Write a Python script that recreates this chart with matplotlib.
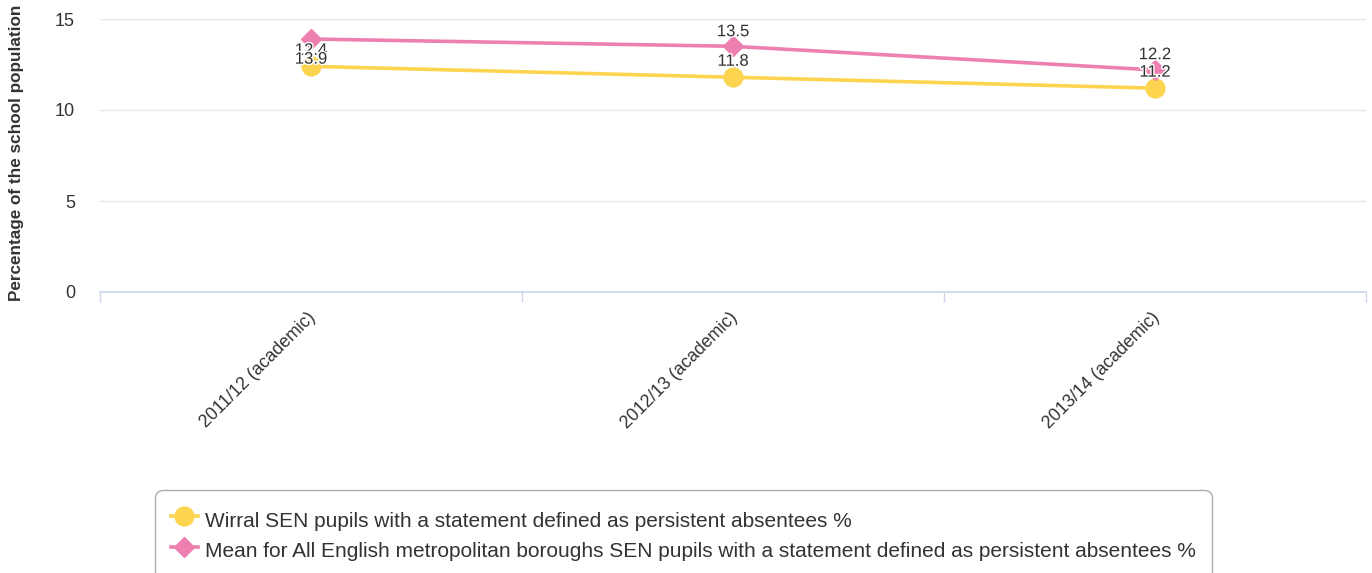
import matplotlib
matplotlib.use("Agg")
import matplotlib.pyplot as plt
import matplotlib.patheffects as pe
from matplotlib.lines import Line2D
from matplotlib.transforms import ScaledTranslation
import numpy as np

plt.rcParams['font.family'] = ['Liberation Sans', 'DejaVu Sans']

# data
categories = ["2011/12 (academic)", "2012/13 (academic)", "2013/14 (academic)"]
wirral = [12.4, 11.8, 11.2]
mean_metro = [13.9, 13.5, 12.2]
series_names = [
    "Wirral SEN pupils with a statement defined as persistent absentees %",
    "Mean for All English metropolitan boroughs SEN pupils with a statement defined as persistent absentees %",
]
y_ticks = [0, 5, 10, 15]

yellow = "#FDD44F"
pink = "#EE80B0"
text_col = "#333333"

W, H = 1372, 573
fig = plt.figure(figsize=(W / 100, H / 100), dpi=100)
ax = fig.add_axes([100 / W, 1 - 292 / H, 1266 / W, 273 / H])

x = np.arange(len(categories))
ax.plot(x, wirral, color=yellow, lw=2.6, marker="o", ms=13.5, zorder=3)
ax.plot(x, mean_metro, color=pink, lw=2.6, marker="D", ms=10, zorder=3)

# data labels (offsets in points, pink first label pushed below to avoid overlap)
label_style = dict(ha="center", va="center", fontsize=12, color=text_col, zorder=5,
                   path_effects=[pe.withStroke(linewidth=2, foreground="white")])
for xi, v in zip(x, wirral):
    ax.annotate(f"{v:.1f}", (xi, v), xytext=(0, 11.5), textcoords="offset points", **label_style)
pink_offsets = [-14.5, 10.5, 11]
for xi, v, off in zip(x, mean_metro, pink_offsets):
    ax.annotate(f"{v:.1f}", (xi, v), xytext=(0, off), textcoords="offset points", **label_style)

ax.set_xlim(-0.5, len(categories) - 0.5)
ax.set_ylim(0, 15)
ax.set_yticks(y_ticks)
ax.yaxis.grid(True, color="#e6e6e6", lw=1)
ax.set_axisbelow(True)
ax.tick_params(axis="y", length=0, pad=18, labelsize=13, labelcolor=text_col)

for s in ["top", "right", "left"]:
    ax.spines[s].set_visible(False)
ax.spines["bottom"].set_color("#ccd6eb")
ax.spines["bottom"].set_linewidth(1.2)

ax.set_xticks(np.arange(-0.5, len(categories), 1.0))
ax.set_xticklabels([])
ax.tick_params(axis="x", which="major", length=7, width=1, color="#ccd6eb", direction="out")
ax.set_xticks(x, minor=True)
ax.set_xticklabels(categories, minor=True, rotation=45, ha="right", va="top",
                   fontsize=12.8, color=text_col)
ax.tick_params(axis="x", which="minor", length=0, pad=12.5)
for lbl in ax.get_xticklabels(minor=True):
    lbl.set_transform(lbl.get_transform() + ScaledTranslation(8 / 100, 0, fig.dpi_scale_trans))

fig.text(17 / W, 1 - 153 / H, "Percentage of the school population", rotation=90,
         ha="center", va="center", fontsize=12.3, fontweight="bold", color=text_col)

handles = [
    Line2D([], [], color=yellow, lw=2.6, marker="o", ms=13.5),
    Line2D([], [], color=pink, lw=2.6, marker="D", ms=10),
]
leg = fig.legend(handles, series_names, loc="upper left",
                 bbox_to_anchor=(155 / W, 1 - 490 / H), fontsize=15,
                 frameon=True, fancybox=True, handlelength=1.3, handletextpad=0.35,
                 handleheight=1.7, labelspacing=0.12, borderpad=0.76, borderaxespad=0)
for t in leg.get_texts():
    t.set_color(text_col)
frame = leg.get_frame()
frame.set_edgecolor("#999999")
frame.set_linewidth(1)
frame.set_boxstyle("round,pad=0,rounding_size=0.4")

fig.savefig("out.png", dpi=100)
